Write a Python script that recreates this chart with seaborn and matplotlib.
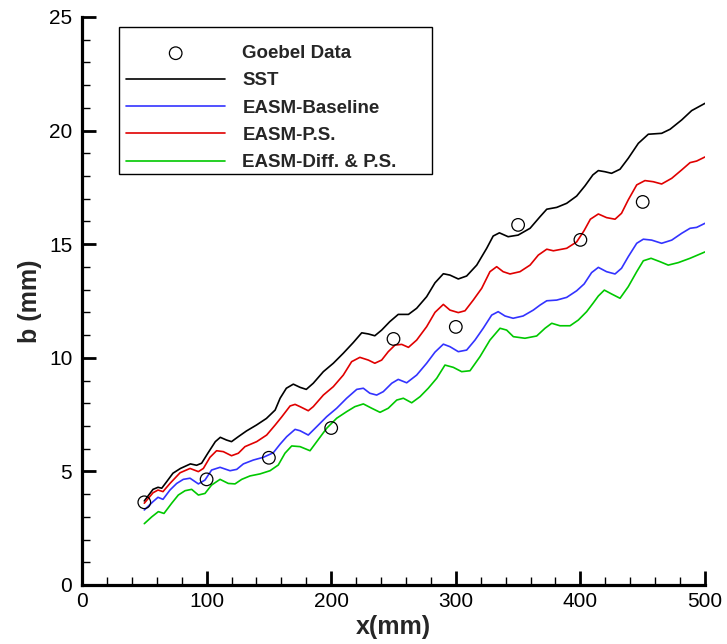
import numpy as np
import pandas as pd
import matplotlib
matplotlib.use("Agg")
import matplotlib.pyplot as plt
from matplotlib.patches import Rectangle
import seaborn as sns

# ---- data ----
goebel_x = [50, 100, 150, 200, 250, 300, 350, 400, 450]
goebel_y = [3.64, 4.65, 5.6, 6.91, 10.83, 11.36, 15.85, 15.19, 16.86]

sst_x = [50, 57, 61, 64, 68, 73, 79, 87, 92, 96, 101, 107, 111, 116, 120, 125.5, 132, 140, 148, 155,
         159, 164, 169.6, 175, 180, 185.6, 193.7, 201.7, 209.7, 217.7, 224.5, 229.8, 235, 240.5, 247,
         253.8, 262, 268.6, 276.6, 283.3, 290, 295.3, 302, 308.7, 316.8, 324.8, 330, 335, 342, 350,
         359.6, 367.6, 373, 381, 389, 397, 403.7, 410, 414.4, 419.7, 425, 431.8, 438.4, 446.5, 454.5,
         465.2, 472, 481.3, 489.3, 500]
sst_y = [3.7, 4.21, 4.3, 4.26, 4.55, 4.92, 5.13, 5.33, 5.27, 5.36, 5.8, 6.31, 6.5, 6.38, 6.31, 6.53,
         6.78, 7.04, 7.33, 7.7, 8.22, 8.66, 8.84, 8.7, 8.61, 8.88, 9.39, 9.76, 10.2, 10.67, 11.1, 11.05,
         10.97, 11.22, 11.59, 11.91, 11.91, 12.18, 12.69, 13.3, 13.7, 13.64, 13.47, 13.6, 14.08, 14.82,
         15.36, 15.5, 15.33, 15.4, 15.7, 16.21, 16.54, 16.62, 16.8, 17.12, 17.57, 18.05, 18.24, 18.19,
         18.12, 18.3, 18.78, 19.44, 19.84, 19.88, 20.06, 20.47, 20.88, 21.2]

base_x = [50, 57, 61, 65, 70.6, 76, 81.3, 86.7, 93.4, 98.7, 104, 110.8, 118.8, 124.2, 129.5, 137.5,
          145.5, 153.5, 159, 164.3, 171, 175, 181.6, 188.4, 196.4, 204.4, 212.4, 220.5, 225.8, 231,
          236.5, 241.8, 248.6, 253.8, 260.6, 268.6, 276.6, 283.3, 290, 295.3, 302, 308.7, 315.4, 322,
          328.8, 334, 339.5, 346, 354, 362.2, 367.6, 373, 381, 389, 397, 403, 409, 414.4, 421, 427.8,
          433, 438.4, 445.2, 450.5, 457.2, 465.2, 473.3, 481.3, 488, 493.3, 500]
base_y = [3.3, 3.67, 3.86, 3.77, 4.18, 4.47, 4.65, 4.7, 4.45, 4.62, 5.06, 5.18, 5.03, 5.09, 5.33, 5.5,
          5.62, 5.82, 6.2, 6.53, 6.85, 6.79, 6.6, 6.97, 7.41, 7.78, 8.22, 8.61, 8.66, 8.44, 8.36, 8.51,
          8.88, 9.05, 8.9, 9.24, 9.76, 10.25, 10.6, 10.49, 10.27, 10.34, 10.78, 11.3, 11.88, 12.03,
          11.84, 11.74, 11.84, 12.1, 12.32, 12.51, 12.54, 12.66, 12.95, 13.25, 13.75, 13.98, 13.79,
          13.69, 13.94, 14.45, 15.04, 15.22, 15.18, 15.04, 15.18, 15.48, 15.7, 15.74, 15.92]

ps_x = [50, 57, 61, 65, 70.6, 78.7, 86.7, 93.4, 97.4, 102.7, 108, 113.4, 120, 125.5, 130.8, 140.2,
        148.2, 155, 160.3, 167, 171, 175, 181.6, 185.6, 193.7, 201.7, 209.7, 216.4, 223, 229.8, 235,
        240.5, 245.8, 251.2, 256.6, 262, 268.6, 276.6, 283.3, 290, 295.3, 302, 307.4, 314, 320.8,
        327.4, 332.8, 338, 343.5, 351.5, 359.6, 366.2, 373, 378.3, 389, 397, 403, 408, 414.4, 421,
        427.8, 433, 438.4, 445.2, 451.8, 458.5, 465.2, 473.3, 481.3, 488, 493.3, 500]
ps_y = [3.6, 4.06, 4.18, 4.11, 4.47, 4.94, 5.13, 4.99, 5.13, 5.62, 5.91, 5.87, 5.69, 5.8, 6.09, 6.31,
        6.6, 7.04, 7.4, 7.88, 7.95, 7.85, 7.67, 7.85, 8.36, 8.73, 9.24, 9.83, 10.02, 9.9, 9.76, 9.9,
        10.27, 10.56, 10.59, 10.46, 10.78, 11.37, 12.0, 12.35, 12.1, 11.99, 12.07, 12.54, 13.06,
        13.79, 14.01, 13.79, 13.69, 13.79, 14.08, 14.52, 14.78, 14.71, 14.82, 15.1, 15.6, 16.1, 16.33,
        16.17, 16.1, 16.36, 16.95, 17.61, 17.8, 17.75, 17.65, 17.9, 18.27, 18.59, 18.66, 18.84]

diff_x = [50, 56, 61.3, 65.8, 72, 77.3, 82.7, 88, 93.4, 98.7, 104, 110.8, 117.4, 122.8, 128.2, 134.8,
          142.9, 150.9, 157.5, 162.9, 168.3, 175, 183, 188.4, 196.4, 204.4, 212.4, 219, 225.8, 232.5,
          239.2, 245.8, 252.6, 257.9, 264.6, 271.3, 277.9, 284.7, 291.3, 298, 304.7, 311.4, 319.4,
          327.4, 335.5, 340.8, 346.2, 355.5, 364.9, 371.6, 377, 383.6, 391.7, 398.3, 405, 410.4, 414.4,
          419.2, 425, 431.8, 438.4, 445.2, 450.5, 456.7, 463.9, 470.5, 478.6, 488, 500]
diff_y = [2.7, 3.0, 3.23, 3.15, 3.6, 3.96, 4.15, 4.21, 3.96, 4.03, 4.4, 4.65, 4.47, 4.45, 4.65, 4.8,
          4.89, 5.03, 5.28, 5.8, 6.12, 6.09, 5.91, 6.31, 6.9, 7.34, 7.63, 7.85, 7.97, 7.78, 7.6, 7.78,
          8.14, 8.22, 8.02, 8.29, 8.66, 9.1, 9.68, 9.58, 9.39, 9.43, 10.05, 10.78, 11.3, 11.22, 10.93,
          10.86, 10.96, 11.3, 11.52, 11.41, 11.41, 11.66, 12.03, 12.42, 12.72, 12.98, 12.81, 12.62,
          13.13, 13.79, 14.27, 14.38, 14.23, 14.08, 14.19, 14.38, 14.66]

series = [
    ("SST", sst_x, sst_y, "black"),
    ("EASM-Baseline", base_x, base_y, "#3333ff"),
    ("EASM-P.S.", ps_x, ps_y, "#e00000"),
    ("EASM-Diff. & P.S.", diff_x, diff_y, "#00c800"),
]

sns.set_style("ticks")
plt.rcParams["font.family"] = ["Liberation Sans", "DejaVu Sans"]

W, H = 727, 644
fig = plt.figure(figsize=(W / 100, H / 100), dpi=100)
ax = fig.add_axes([82 / W, 59 / H, 623 / W, 568 / H])

for name, xs, ys, col in series:
    df = pd.DataFrame({"x": xs, "y": ys})
    sns.lineplot(data=df, x="x", y="y", ax=ax, color=col, lw=1.2,
                 label=name, estimator=None, sort=False)

gdf = pd.DataFrame({"x": goebel_x, "y": goebel_y})
sns.scatterplot(data=gdf, x="x", y="y", ax=ax, marker="o", s=82,
                facecolor="none", edgecolor="black", linewidth=0.9,
                label="Goebel Data", zorder=5)

ax.set_xlim(0, 500)
ax.set_ylim(0, 25)
ax.set_xticks(np.arange(0, 501, 100))
ax.set_yticks(np.arange(0, 26, 5))
ax.set_xticks(np.arange(0, 501, 20), minor=True)
ax.set_yticks(np.arange(0, 26, 1), minor=True)
ax.tick_params(which="major", direction="in", length=10, width=2, labelsize=15,
               color="black", labelcolor="black")
ax.tick_params(axis="y", which="major", pad=7)
ax.tick_params(axis="x", which="major", pad=5)
ax.tick_params(which="minor", direction="in", length=6, width=1, color="black")
for s in ["top", "right"]:
    ax.spines[s].set_visible(False)
for s in ["left", "bottom"]:
    ax.spines[s].set_linewidth(2.3)
    ax.spines[s].set_color("black")

ax.set_xlabel("x(mm)", fontsize=18, fontweight="bold", labelpad=3)
ax.set_ylabel("b (mm)", fontsize=18, fontweight="bold", labelpad=5)

handles, labels = ax.get_legend_handles_labels()
order = [labels.index(l) for l in ["Goebel Data", "SST", "EASM-Baseline", "EASM-P.S.", "EASM-Diff. & P.S."]]

# legend box (frame drawn separately for exact extent)
box = Rectangle((119 / W, 1 - 174 / H), (432 - 119) / W, (174 - 27) / H,
                transform=fig.transFigure, facecolor="white",
                edgecolor="black", linewidth=1.0, zorder=8, clip_on=False)
ax.add_patch(box)

leg = ax.legend([handles[i] for i in order], [labels[i] for i in order],
                loc="upper left", bbox_to_anchor=(126 / W, 1 - 45 / H),
                bbox_transform=fig.transFigure, prop={"weight": "bold", "size": 13.5},
                frameon=False, handlelength=5.3, handletextpad=0.9, labelspacing=0.54,
                borderpad=0, borderaxespad=0)
leg.set_zorder(10)

fig.savefig("out.png", dpi=100)
